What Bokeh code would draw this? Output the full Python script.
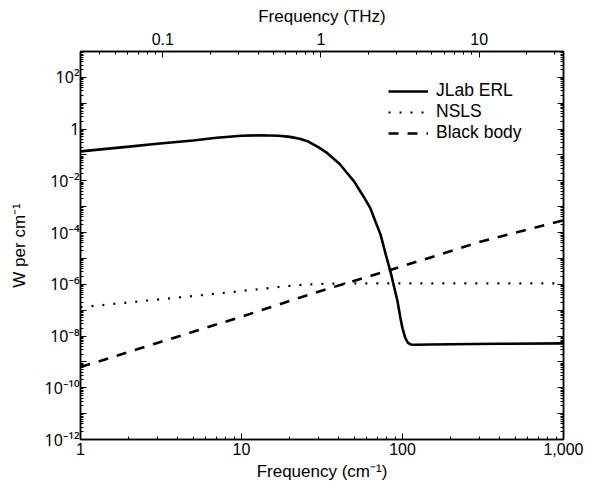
from bokeh.plotting import figure
from bokeh.models import (LogAxis, Range1d, FixedTicker, CustomJSTickFormatter,
                          Legend, LegendItem, LogScale)
from bokeh.embed import file_html
from bokeh.resources import INLINE

# ---- data ----
jlab_x = [1, 2, 3, 5, 7, 10, 13, 17, 20, 23, 26, 30, 34, 38, 41, 45, 50, 57, 63, 68,
          73, 79, 84, 89, 93, 97, 100, 104, 108, 113, 120, 150, 200, 400, 1000]
jlab_y = [0.138, 0.21, 0.27, 0.36, 0.46, 0.55, 0.575, 0.55, 0.50, 0.42, 0.33, 0.20,
          0.12, 0.065, 0.043, 0.021, 0.0095, 0.0026, 9e-4, 2.6e-4,
          8.5e-5, 1.3e-5, 3.3e-6, 7.2e-7, 2.3e-7, 5.1e-8, 2e-8, 8.5e-9, 5.5e-9,
          4.7e-9, 4.6e-9, 4.7e-9, 4.8e-9, 5.0e-9, 5.2e-9]

nsls_x = [1, 2, 5, 10, 20, 25, 30, 40, 60, 100, 1000]
nsls_y = [1.3e-7, 2.0e-7, 3.5e-7, 5.5e-7, 8.7e-7, 9.7e-7, 1.03e-6, 1.07e-6, 1.08e-6,
          1.08e-6, 1.08e-6]

bb_x = [1, 3, 10, 30, 100, 300, 1000]
bb_y = [6.3e-10, 5.4e-9, 5.6e-8, 5.2e-7, 5.0e-6, 4.3e-5, 3.0e-4]

series_labels = ["JLab ERL", "NSLS", "Black body"]

x_major = [1, 10, 100, 1000]
y_major_exp = list(range(-12, 4))
thz_major = [0.1, 1, 10]
thz_span = (0.0302, 34.1)   # top axis extent as drawn in the reference

FONT = "Liberation Sans"

p = figure(width=590, height=486, x_axis_type="log", y_axis_type="log",
           x_range=Range1d(1, 1000), y_range=Range1d(1e-12, 1e3),
           output_backend="svg", toolbar_location=None,
           min_border_left=80, min_border_right=27, min_border_top=51,
           min_border_bottom=47)
p.xgrid.visible = False
p.ygrid.visible = False
p.outline_line_color = "black"
p.outline_line_width = 1.5
p.background_fill_color = "white"
p.border_fill_color = "white"

# ticks
y_majors = [10.0 ** k for k in y_major_exp]
y_minors = [m * 10.0 ** k for k in range(-12, 3) for m in range(2, 10)]
x_minors = [m * 10.0 ** k for k in range(0, 3) for m in range(2, 10)]
thz_lo, thz_hi = thz_span
thz_minors = [m * 10.0 ** k for k in range(-2, 2) for m in range(2, 10)
              if thz_lo <= m * 10.0 ** k <= thz_hi]

yfmt = CustomJSTickFormatter(code="""
const e = Math.round(Math.log10(tick));
if (e % 2 != 0) return "";
if (e == 0) return "1";
const sup = {"-":"\u207b","0":"\u2070","1":"\u00b9","2":"\u00b2","3":"\u00b3",
             "4":"\u2074","5":"\u2075","6":"\u2076","7":"\u2077","8":"\u2078","9":"\u2079"};
return "10" + String(e).split("").map(c => sup[c]).join("");
""")
xfmt = CustomJSTickFormatter(code="""
const v = Math.round(tick);
return v >= 1000 ? v.toLocaleString("en-US") : String(v);
""")
thzfmt = CustomJSTickFormatter(code="""
return tick < 1 ? tick.toFixed(1) : String(Math.round(tick));
""")
blankfmt = CustomJSTickFormatter(code="return '';")


def style(ax):
    ax.axis_line_color = "black"
    ax.axis_line_width = 1.5
    ax.major_tick_in = 6
    ax.major_tick_out = 0
    ax.minor_tick_in = 3
    ax.minor_tick_out = 0
    ax.major_tick_line_color = "black"
    ax.minor_tick_line_color = "black"
    ax.major_tick_line_width = 1
    ax.minor_tick_line_width = 1
    ax.major_label_text_font = FONT
    ax.major_label_text_font_size = "16px"
    ax.major_label_text_color = "black"
    ax.axis_label_text_font = FONT
    ax.axis_label_text_font_size = "17px"
    ax.axis_label_text_font_style = "normal"
    ax.axis_label_text_color = "black"


# bottom
xa = p.xaxis[0]
style(xa)
xa.ticker = FixedTicker(ticks=x_major, minor_ticks=x_minors)
xa.formatter = xfmt
xa.axis_label = "Frequency (cm\u207b\u00b9)"
xa.major_label_standoff = 3
xa.axis_label_standoff = 4

# left
ya = p.yaxis[0]
style(ya)
ya.ticker = FixedTicker(ticks=y_majors, minor_ticks=y_minors)
ya.formatter = yfmt
ya.major_label_text_font = "Noto Sans"
ya.major_label_text_font_size = "16px"
ya.axis_label = "W per cm\u207b\u00b9"
ya.major_label_standoff = 1
ya.axis_label_standoff = 13

# top (THz)
p.extra_x_ranges = {"thz": Range1d(thz_lo, thz_hi)}
p.extra_x_scales = {"thz": LogScale()}
ta = LogAxis(x_range_name="thz")
style(ta)
ta.ticker = FixedTicker(ticks=thz_major, minor_ticks=thz_minors)
ta.formatter = thzfmt
ta.axis_label = "Frequency (THz)"
ta.major_label_standoff = 7
ta.axis_label_standoff = 4
p.add_layout(ta, "above")

# right (mirror)
ra = LogAxis()
style(ra)
ra.ticker = FixedTicker(ticks=y_majors, minor_ticks=y_minors)
ra.formatter = blankfmt
ra.major_label_standoff = 0
p.add_layout(ra, "right")

# lines
r1 = p.line(jlab_x, jlab_y, line_color="black", line_width=2.6)
r2 = p.line(nsls_x, nsls_y, line_color="black", line_width=2.2, line_dash="2 9")
r3 = p.line(bb_x, bb_y, line_color="black", line_width=2.6, line_dash="10 9")

legend = Legend(items=[LegendItem(label=series_labels[0], renderers=[r1]),
                       LegendItem(label=series_labels[1], renderers=[r2]),
                       LegendItem(label=series_labels[2], renderers=[r3])],
                location=(308, 296))
legend.border_line_color = None
legend.background_fill_alpha = 0
legend.padding = 0
legend.margin = 0
legend.spacing = 0
legend.glyph_width = 40
legend.glyph_height = 20
legend.label_height = 20
legend.label_standoff = 8
legend.label_text_font = FONT
legend.label_text_font_size = "17.5px"
legend.label_text_color = "black"
p.add_layout(legend, "center")

open("out.html", "w").write(file_html(p, INLINE))
